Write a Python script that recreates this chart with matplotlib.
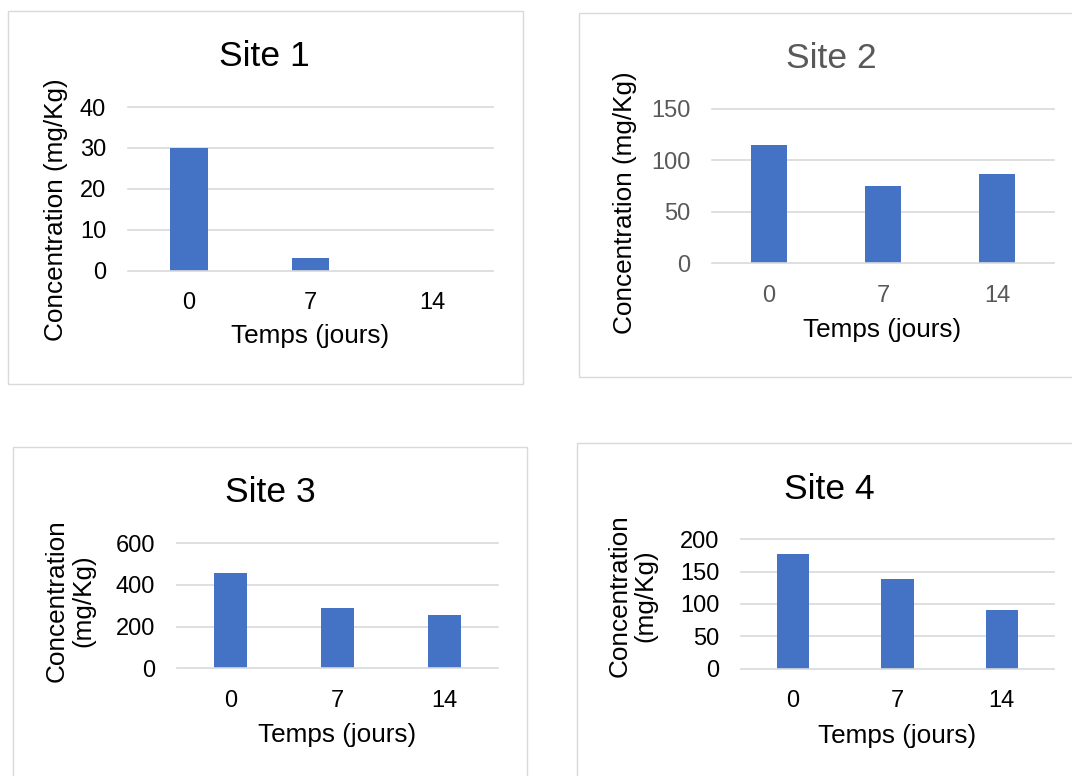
import matplotlib
matplotlib.use("Agg")
import matplotlib.pyplot as plt
from matplotlib.patches import Rectangle

W, H = 1072, 776
plt.rcParams['font.family'] = ['Liberation Sans', 'DejaVu Sans']

# Data
days = ["0", "7", "14"]
titles = ["Site 1", "Site 2", "Site 3", "Site 4"]
site1 = [30, 3, 0]
site2 = [115, 75, 87]
site3 = [458, 289, 257]
site4 = [177, 139, 91]
y_max = [40, 150, 600, 200]
y_step = [10, 50, 200, 50]
x_label = "Temps (jours)"
y_label_one_line = "Concentration (mg/Kg)"
y_label_two_lines = ["Concentration", "(mg/Kg)"]

BAR = "#4472C4"
GRID = "#d9d9d9"
GREY_TXT = "#595959"

fig = plt.figure(figsize=(W / 100, H / 100), dpi=100)


def fx(x):
    return x / W


def fy(y):
    return 1 - y / H


# panel layout in pixels: frame box, plot box, title, labels
panels = [
    dict(frame=(8, 11, 523.3, 384), plot=(127.7, 107, 493.3, 270.7),
         title=(264.5, 65.7), xlab=(310.5, 343.3), ylab=[(62.5, 210)],
         tick_color="black", title_color="black"),
    dict(frame=(579, 13, 1090, 377), plot=(712, 108.7, 1054, 263.3),
         title=(831, 67.7), xlab=(882.5, 337.3), ylab=[(632, 202.5)],
         tick_color=GREY_TXT, title_color=GREY_TXT),
    dict(frame=(12.7, 446.7, 527.3, 800), plot=(176.7, 543, 497.7, 668.3),
         title=(270, 501.7), xlab=(336.7, 741.7), ylab=[(63.3, 601), (90, 601)],
         tick_color="black", title_color="black"),
    dict(frame=(577, 443, 1090, 800), plot=(741, 539.3, 1054, 668.7),
         title=(829.5, 499), xlab=(897.5, 742.7), ylab=[(626.5, 596), (652.5, 596)],
         tick_color="black", title_color="black"),
]
values = [site1, site2, site3, site4]

for i, p in enumerate(panels):
    x0, y0, x1, y1 = p["frame"]
    fig.patches.append(Rectangle((fx(x0), fy(y1)), fx(x1) - fx(x0), fy(y0) - fy(y1),
                                 transform=fig.transFigure, fill=False,
                                 edgecolor=GRID, linewidth=1.0, zorder=0))

    l, t, r, b = p["plot"]
    ax = fig.add_axes([fx(l), fy(b), fx(r) - fx(l), fy(t) - fy(b)])
    ax.set_facecolor("none")
    for s in ax.spines.values():
        s.set_visible(False)

    yticks = list(range(0, y_max[i] + 1, y_step[i]))
    for yv in yticks:
        ax.axhline(yv, color=GRID, linewidth=1.2, clip_on=False,
                   zorder=3 if yv == 0 else 0.5)
    ax.bar(range(len(days)), values[i], width=0.31, color=BAR, zorder=2)

    ax.set_xlim(-0.5, len(days) - 0.5)
    ax.set_ylim(0, y_max[i])
    ax.set_yticks(yticks)
    ax.set_xticks(range(len(days)), days)
    ax.tick_params(axis="y", length=0, pad=15.5, labelsize=17,
                   labelcolor=p["tick_color"])
    ax.tick_params(axis="x", length=0, pad=15.3, labelsize=17,
                   labelcolor=p["tick_color"])

    tx, ty = p["title"]
    fig.text(fx(tx), fy(ty), titles[i], ha="center", va="baseline",
             fontsize=25.5, color=p["title_color"])
    lx, ly = p["xlab"]
    fig.text(fx(lx), fy(ly), x_label, ha="center", va="baseline",
             fontsize=18.8, color="black")
    lines = [y_label_one_line] if len(p["ylab"]) == 1 else y_label_two_lines
    for (yx, yy), txt in zip(p["ylab"], lines):
        fig.text(fx(yx), fy(yy), txt, rotation=90, rotation_mode="anchor",
                 ha="center", va="baseline", fontsize=18.8, color="black")

fig.savefig("out.png", dpi=100)
